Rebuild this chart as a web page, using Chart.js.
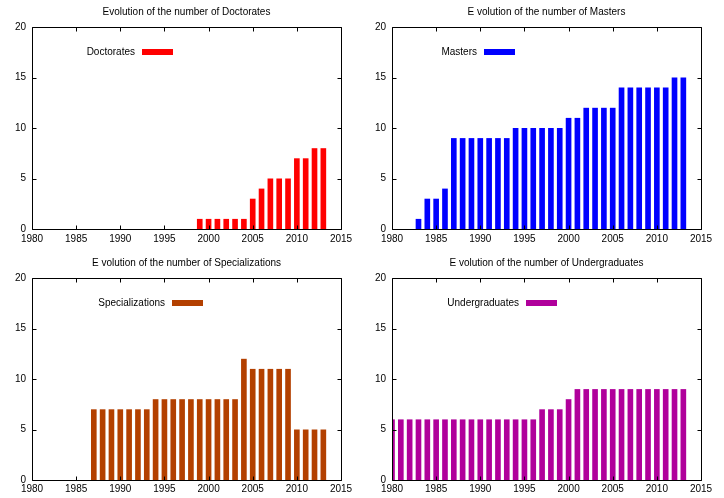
<!DOCTYPE html>
<html><head><meta charset="utf-8">
<script src="https://cdn.jsdelivr.net/npm/chart.js@4/dist/chart.umd.min.js"></script>
<style>
html,body{margin:0;padding:0;background:#fff;}
.p{position:absolute;width:362px;height:249px;}
</style></head><body>
<div class="p" style="left:0;top:0"><canvas id="c1" width="362" height="249"></canvas></div>
<div class="p" style="left:362px;top:0"><canvas id="c2" width="362" height="249"></canvas></div>
<div class="p" style="left:0;top:249px"><canvas id="c3" width="362" height="249"></canvas></div>
<div class="p" style="left:362px;top:249px"><canvas id="c4" width="362" height="249"></canvas></div>
<script>
const doctorateYears = [1999,2000,2001,2002,2003,2004,2005,2006,2007,2008,2009,2010,2011,2012,2013];
const doctorates     = [1,1,1,1,1,1,3,4,5,5,5,7,7,8,8];
const masterYears = [1983,1984,1985,1986,1987,1988,1989,1990,1991,1992,1993,1994,1995,1996,1997,1998,1999,2000,2001,2002,2003,2004,2005,2006,2007,2008,2009,2010,2011,2012,2013];
const masters     = [1,3,3,4,9,9,9,9,9,9,9,10,10,10,10,10,10,11,11,12,12,12,12,14,14,14,14,14,14,15,15];
const specializationYears = [1987,1988,1989,1990,1991,1992,1993,1994,1995,1996,1997,1998,1999,2000,2001,2002,2003,2004,2005,2006,2007,2008,2009,2010,2011,2012,2013];
const specializations     = [7,7,7,7,7,7,7,8,8,8,8,8,8,8,8,8,8,12,11,11,11,11,11,5,5,5,5];
const undergraduateYears = [1980,1981,1982,1983,1984,1985,1986,1987,1988,1989,1990,1991,1992,1993,1994,1995,1996,1997,1998,1999,2000,2001,2002,2003,2004,2005,2006,2007,2008,2009,2010,2011,2012,2013];
const undergraduates     = [6,6,6,6,6,6,6,6,6,6,6,6,6,6,6,6,6,7,7,7,8,9,9,9,9,9,9,9,9,9,9,9,9,9];
const xTicks = [1980,1985,1990,1995,2000,2005,2010,2015];
const yTicks = [0,5,10,15,20];

const FONT = 'Liberation Sans, Arial, sans-serif';

function makeChart(id, title, label, years, values, color, cfg) {
  const deco = {
    id: 'deco',
    afterDraw(chart) {
      const ctx = chart.ctx, a = chart.chartArea;
      const xs = chart.scales.x, ys = chart.scales.y;
      ctx.save();
      ctx.strokeStyle = '#000';
      ctx.lineWidth = 1;
      ctx.beginPath();
      const L = Math.round(a.left)+0.5, R = Math.round(a.right)+0.5, T = Math.round(a.top)+0.5, B = Math.round(a.bottom)+0.5;
      ctx.rect(L, T, R-L, B-T);
      const tl = 4;
      xTicks.forEach(v => {
        const px = Math.round(xs.getPixelForValue(v))+0.5;
        ctx.moveTo(px, B); ctx.lineTo(px, B-tl);
        ctx.moveTo(px, T); ctx.lineTo(px, T+tl);
      });
      yTicks.forEach(v => {
        const py = Math.round(ys.getPixelForValue(v))+0.5;
        ctx.moveTo(L, py); ctx.lineTo(L+tl, py);
        ctx.moveTo(R, py); ctx.lineTo(R-tl, py);
      });
      ctx.stroke();
      // title
      ctx.fillStyle = '#000';
      ctx.font = '10px ' + FONT;
      ctx.textAlign = 'center';
      ctx.textBaseline = 'middle';
      ctx.fillText(title, (a.left + a.right)/2, cfg.titleY);
      // key
      ctx.textAlign = 'right';
      ctx.fillText(label, a.left + cfg.keyX - 7, a.top + cfg.keyY);
      ctx.fillStyle = color;
      ctx.fillRect(a.left + cfg.keyX, a.top + cfg.keyY - 3, 31, 6);
      ctx.restore();
    }
  };
  return new Chart(document.getElementById(id), {
    type: 'bar',
    data: {
      datasets: [{
        label: label,
        data: years.map((y, i) => ({x: y, y: values[i]})),
        backgroundColor: color,
        borderWidth: 0,
        barPercentage: 0.64,
        categoryPercentage: 1.0
      }]
    },
    options: {
      responsive: false,
      animation: false,
      layout: { padding: { left: 0, right: cfg.padRight, top: cfg.padTop, bottom: 0 } },
      plugins: { legend: { display: false }, title: { display: false }, tooltip: { enabled: false } },
      scales: {
        x: {
          type: 'linear', min: 1980, max: 2015, offset: false,
          afterBuildTicks(s) { s.ticks = xTicks.map(v => ({value: v})); },
          ticks: { callback: v => String(v), color: '#000', font: { family: FONT, size: 10 }, padding: cfg.xPad, maxRotation: 0, autoSkip: false },
          grid: { display: false, drawTicks: false },
          border: { display: false },
          afterFit(s) { s.height = cfg.xHeight; }
        },
        y: {
          min: 0, max: 20,
          afterBuildTicks(s) { s.ticks = yTicks.map(v => ({value: v})); },
          ticks: { color: '#000', font: { family: FONT, size: 10 }, padding: 6 },
          grid: { display: false, drawTicks: false },
          border: { display: false },
          afterFit(s) { s.width = cfg.yWidth; }
        }
      }
    },
    plugins: [deco]
  });
}

makeChart('c1', 'Evolution of the number of Doctorates', 'Doctorates', doctorateYears, doctorates, '#ff0000',
  {padRight: 21, padTop: 27, xHeight: 20, yWidth: 32, titleY: 12, keyX: 110, keyY: 25, xPad: 4});
makeChart('c2', 'E volution of the number of Masters', 'Masters', masterYears, masters, '#0000ff',
  {padRight: 23, padTop: 27, xHeight: 20, yWidth: 30, titleY: 12, keyX: 92, keyY: 25, xPad: 4});
makeChart('c3', 'E volution of the number of Specializations', 'Specializations', specializationYears, specializations, '#b34000',
  {padRight: 21, padTop: 29, xHeight: 18, yWidth: 32, titleY: 14, keyX: 140, keyY: 25, xPad: 3});
makeChart('c4', 'E volution of the number of Undergraduates', 'Undergraduates', undergraduateYears, undergraduates, '#b0009b',
  {padRight: 23, padTop: 29, xHeight: 18, yWidth: 30, titleY: 14, keyX: 134, keyY: 25, xPad: 3});
</script>
</body></html>
